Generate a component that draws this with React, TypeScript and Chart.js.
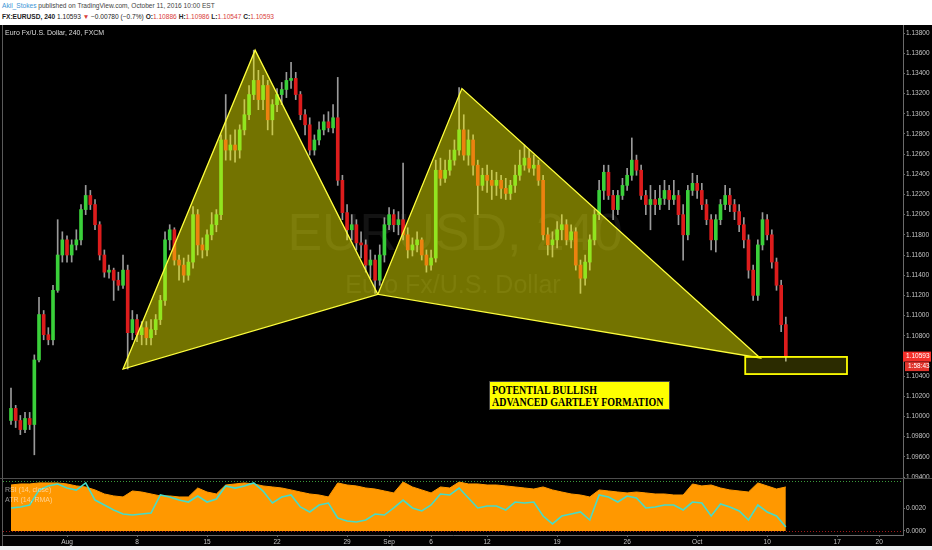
import { useEffect, useRef } from "react"
import { Chart, registerables } from "chart.js"

Chart.register(...registerables)

const SANS = "'Liberation Sans', Arial, sans-serif"

// 8-hour candles, index 0 = Jul 26 2016 (three per trading day)
const firstOpen = 1.0996
const closes = [
  1.1008, 1.0996, 1.0987, 1.0998, 1.0992, 1.1056, 1.1101, 1.1081, 1.1076, 1.1125,
  1.116, 1.1175, 1.116, 1.117, 1.1175, 1.1205, 1.1219, 1.121, 1.119, 1.116,
  1.1143, 1.1145, 1.1135, 1.113, 1.1145, 1.1083, 1.1096, 1.1081, 1.1088, 1.1078,
  1.1086, 1.1096, 1.1115, 1.1175, 1.1185, 1.1155, 1.115, 1.114, 1.1153, 1.12,
  1.117, 1.1165, 1.118, 1.119, 1.12, 1.1274, 1.1264, 1.1269, 1.1264, 1.1284,
  1.1299, 1.1319, 1.1333, 1.1314, 1.1328, 1.1294, 1.1309, 1.1319, 1.1324, 1.1333,
  1.1335, 1.1319, 1.1299, 1.1289, 1.1264, 1.1274, 1.1284, 1.1292, 1.1286, 1.1296,
  1.1234, 1.1202, 1.1185, 1.119, 1.1172, 1.117, 1.115, 1.1155, 1.1135, 1.116,
  1.119, 1.12, 1.119, 1.1195, 1.118, 1.1165, 1.117, 1.1175, 1.116, 1.115,
  1.1157, 1.1244, 1.1236, 1.1244, 1.1254, 1.1264, 1.1284, 1.1259, 1.1274, 1.1249,
  1.1229, 1.1239, 1.1234, 1.1229, 1.1234, 1.1226, 1.1221, 1.1229, 1.1239, 1.1249,
  1.1256, 1.1246, 1.1249, 1.1234, 1.118, 1.117, 1.1175, 1.1185, 1.119, 1.1175,
  1.1183, 1.115, 1.1137, 1.1153, 1.1175, 1.12, 1.1224, 1.1242, 1.1219, 1.1205,
  1.1219, 1.1229, 1.1239, 1.1254, 1.1244, 1.1219, 1.121, 1.1215, 1.121, 1.1216,
  1.1224, 1.1215, 1.1219, 1.12, 1.118, 1.1224, 1.1231, 1.1224, 1.121, 1.1195,
  1.1175, 1.1195, 1.121, 1.1219, 1.121, 1.1203, 1.119, 1.1175, 1.1145, 1.112,
  1.117, 1.1195, 1.118, 1.1153, 1.113, 1.1091, 1.10593,
]
const highs = [
  1.1028, 1.1011, 1.1001, 1.1004, 1.1004, 1.1061, 1.1118, 1.1105, 1.1088, 1.113,
  1.1195, 1.1183, 1.1179, 1.1175, 1.1185, 1.121, 1.1229, 1.1224, 1.1215, 1.1193,
  1.1165, 1.115, 1.1147, 1.1143, 1.116, 1.115, 1.1105, 1.1101, 1.1094, 1.1094,
  1.1096, 1.1101, 1.112, 1.1183, 1.119, 1.1187, 1.116, 1.1157, 1.116, 1.1208,
  1.1205, 1.1177, 1.1185, 1.1202, 1.1205, 1.1279, 1.1319, 1.1279, 1.1284, 1.1289,
  1.1314, 1.1328, 1.1363, 1.1343, 1.1338, 1.1333, 1.1314, 1.1325, 1.1331, 1.1341,
  1.1351, 1.1341, 1.1322, 1.1304, 1.1296, 1.1279, 1.1292, 1.1299, 1.1302, 1.1309,
  1.1336, 1.1239, 1.121, 1.12, 1.1195, 1.1183, 1.1175, 1.1165, 1.116, 1.117,
  1.1197, 1.1207, 1.1205, 1.1203, 1.1251, 1.1187, 1.1177, 1.1183, 1.1177, 1.1165,
  1.1165, 1.1254, 1.1256, 1.1254, 1.1264, 1.1274, 1.1326, 1.1299, 1.1284, 1.1279,
  1.1254, 1.1246, 1.1249, 1.1244, 1.1242, 1.1239, 1.1236, 1.1234, 1.1249, 1.1264,
  1.1269, 1.1264, 1.1259, 1.1254, 1.1239, 1.1187, 1.1183, 1.1193, 1.12, 1.1195,
  1.119, 1.1187, 1.1155, 1.116, 1.118, 1.1205, 1.1234, 1.1249, 1.1249, 1.1224,
  1.1224, 1.1236, 1.1246, 1.1276, 1.1259, 1.1249, 1.1224, 1.1229, 1.1224, 1.1229,
  1.1234, 1.1229, 1.1234, 1.1224, 1.121, 1.1229, 1.1241, 1.1239, 1.1231, 1.1215,
  1.12, 1.12, 1.1215, 1.1229, 1.1226, 1.1215, 1.121, 1.1197, 1.118, 1.115,
  1.1175, 1.1202, 1.12, 1.1185, 1.1157, 1.1135, 1.10986,
]
const lows = [
  1.0992, 1.0989, 1.0982, 1.0984, 1.0987, 1.0962, 1.1054, 1.1076, 1.1071, 1.1071,
  1.1123, 1.1153, 1.1153, 1.1153, 1.1165, 1.117, 1.12, 1.1205, 1.1185, 1.1155,
  1.1138, 1.1137, 1.1115, 1.1125, 1.1127, 1.1047, 1.1076, 1.1074, 1.1071, 1.1071,
  1.1071, 1.1081, 1.1091, 1.111, 1.1165, 1.115, 1.1135, 1.1133, 1.1135, 1.1147,
  1.116, 1.1157, 1.1159, 1.1175, 1.1183, 1.1195, 1.1254, 1.1254, 1.1252, 1.1256,
  1.1279, 1.1294, 1.1314, 1.1304, 1.1304, 1.1284, 1.1279, 1.1302, 1.1309, 1.1316,
  1.1325, 1.1314, 1.1294, 1.1279, 1.1259, 1.1259, 1.1269, 1.1279, 1.1282, 1.1281,
  1.1229, 1.1195, 1.1175, 1.1175, 1.1165, 1.1157, 1.1143, 1.1137, 1.1122, 1.113,
  1.1153, 1.1185, 1.1183, 1.118, 1.1175, 1.1157, 1.1159, 1.1163, 1.1155, 1.1143,
  1.1145, 1.1153, 1.1229, 1.1232, 1.1239, 1.1249, 1.1259, 1.1254, 1.1249, 1.1239,
  1.12, 1.1224, 1.1222, 1.1215, 1.1219, 1.1216, 1.1215, 1.1215, 1.1222, 1.1234,
  1.1244, 1.1242, 1.1239, 1.1229, 1.1175, 1.116, 1.1158, 1.1167, 1.1175, 1.117,
  1.1167, 1.1145, 1.1122, 1.113, 1.1145, 1.117, 1.1195, 1.1215, 1.1215, 1.1195,
  1.12, 1.1215, 1.1224, 1.1234, 1.1239, 1.1215, 1.12, 1.1185, 1.12, 1.1205,
  1.121, 1.1205, 1.121, 1.119, 1.1155, 1.1175, 1.1219, 1.1216, 1.1205, 1.119,
  1.1165, 1.1163, 1.119, 1.1205, 1.1203, 1.1195, 1.1183, 1.1167, 1.1137, 1.1115,
  1.1115, 1.1165, 1.1175, 1.1147, 1.1125, 1.1084, 1.10547,
]
const opens = closes.map((_, i) => (i === 0 ? firstOpen : closes[i - 1]))

const priceTicks = [
  1.094, 1.096, 1.098, 1.1, 1.102, 1.104, 1.106, 1.108, 1.11, 1.112, 1.114, 1.116,
  1.118, 1.12, 1.122, 1.124, 1.126, 1.128, 1.13, 1.132, 1.134, 1.136, 1.138,
]
const dateTickIdx = [12, 27, 42, 57, 72, 81, 90, 102, 117, 132, 147, 162, 177, 186]
const dateTickLabels = ["Aug", "8", "15", "22", "29", "Sep", "6", "12", "19", "26", "Oct", "10", "17", "20"]

// indicator samples, one every second candle
const indicatorStep = 2
const atr = [
  0.004, 0.00409, 0.00409, 0.00418, 0.00418, 0.00418, 0.00409, 0.00392, 0.00383, 0.00357,
  0.00322, 0.00305, 0.00296, 0.00348, 0.00339, 0.00322, 0.00305, 0.00305, 0.00296, 0.00296,
  0.00374, 0.00339, 0.00322, 0.004, 0.00409, 0.00418, 0.00409, 0.00392, 0.00383, 0.00374,
  0.00357, 0.00339, 0.00322, 0.00313, 0.00296, 0.00418, 0.004, 0.00392, 0.00374, 0.00365,
  0.00348, 0.00331, 0.00426, 0.00383, 0.00357, 0.00331, 0.00383, 0.00374, 0.00426, 0.00409,
  0.00409, 0.004, 0.004, 0.00392, 0.00383, 0.00374, 0.00365, 0.00383, 0.00357, 0.00339,
  0.00322, 0.00313, 0.00296, 0.00357, 0.00348, 0.00339, 0.00331, 0.00339, 0.00331, 0.00322,
  0.00322, 0.00313, 0.00313, 0.00409, 0.00392, 0.004, 0.00374, 0.00357, 0.00348, 0.00339,
  0.00418, 0.00392, 0.00365, 0.00383,
]
const rsi = [
  48.6, 49.4, 51.0, 63.1, 66.4, 68.0, 64.7, 63.1, 68.8, 55.0,
  51.0, 47.0, 43.7, 42.9, 43.7, 44.5, 59.1, 57.5, 55.0, 53.4,
  58.3, 53.4, 55.9, 66.4, 64.7, 66.4, 68.8, 62.3, 52.6, 57.5,
  59.1, 49.4, 45.4, 51.0, 52.6, 40.5, 38.1, 37.3, 38.9, 43.7,
  42.9, 48.6, 55.0, 48.6, 46.2, 51.0, 59.9, 59.1, 64.7, 56.7,
  48.6, 50.2, 50.2, 47.0, 53.4, 52.6, 53.4, 42.1, 35.7, 42.1,
  43.7, 45.4, 38.9, 59.1, 57.5, 53.4, 58.3, 56.7, 48.6, 49.4,
  51.0, 51.0, 47.0, 53.4, 52.6, 42.1, 51.8, 49.4, 46.2, 38.9,
  51.0, 45.4, 42.1, 33.2,
]
const atrTicks = [0, 0.002]
const rsiLevels = [70, 30]

// harmonic pattern points X, A, B, C, D (candle index, price)
const patternIdx = [24.0, 52.3, 78.6, 96.6, 160.5]
const patternPrice = [1.1047, 1.1363, 1.1121, 1.1325, 1.1058]
const zoneIdx = [157.3, 179.1]
const zonePrice = [1.1042, 1.1059]

const X_MIN = -1.714
const X_MAX = 191.1

const UP = "#3ad03a"
const DOWN = "#dd1c1c"
const WICK = "#9a9a9a"
const AXIS_TEXT = "#c4c4c4"
const AXIS_LINE = "#6a6a6a"

const overlayPlugin = {
  id: "overlay",
  beforeDatasetsDraw(chart: any) {
    const { ctx } = chart
    ctx.save()
    ctx.fillStyle = "rgba(255,255,255,0.075)"
    ctx.textAlign = "center"
    ctx.font = `52px ${SANS}`
    ctx.fillText("EURUSD, 240", 455, 225)
    ctx.font = `25px ${SANS}`
    ctx.fillText("Euro Fx/U.S. Dollar", 453, 268)
    ctx.restore()
  },
  afterDatasetsDraw(chart: any) {
    const { ctx, scales } = chart
    const px = (k: number) => scales.x.getPixelForValue(patternIdx[k])
    const py = (k: number) => scales.y.getPixelForValue(patternPrice[k])
    ctx.save()
    for (const tri of [[0, 1, 2], [2, 3, 4]]) {
      ctx.beginPath()
      tri.forEach((p, k) => (k ? ctx.lineTo(px(p), py(p)) : ctx.moveTo(px(p), py(p))))
      ctx.closePath()
      ctx.fillStyle = "rgba(255,255,0,0.45)"
      ctx.fill()
      ctx.strokeStyle = "#ffff3c"
      ctx.lineWidth = 1.3
      ctx.stroke()
    }
    const x0 = scales.x.getPixelForValue(zoneIdx[0])
    const x1 = scales.x.getPixelForValue(zoneIdx[1])
    const y0 = scales.y.getPixelForValue(zonePrice[1])
    const y1 = scales.y.getPixelForValue(zonePrice[0])
    ctx.fillStyle = "rgba(255,255,0,0.17)"
    ctx.fillRect(x0, y0, x1 - x0, y1 - y0)
    ctx.strokeStyle = "#ffff00"
    ctx.lineWidth = 1.8
    ctx.strokeRect(x0, y0, x1 - x0, y1 - y0)
    ctx.restore()
  },
  afterDraw(chart: any) {
    const { ctx, chartArea, scales } = chart
    const last = closes[closes.length - 1]
    const y = scales.y.getPixelForValue(last)
    ctx.save()
    ctx.fillStyle = "#f5302a"
    ctx.fillRect(chartArea.right, y - 5, 28, 10)
    ctx.fillStyle = "#e2342c"
    ctx.fillRect(chartArea.right + 2, y + 5.5, 24, 9)
    ctx.fillStyle = "#ffffff"
    ctx.font = `6.5px ${SANS}`
    ctx.textBaseline = "middle"
    ctx.fillText(last.toFixed(5), chartArea.right + 3, y)
    ctx.fillText("1:58:43", chartArea.right + 5, y + 10)
    ctx.restore()
  },
}

const levelPlugin = {
  id: "levels",
  afterDatasetsDraw(chart: any) {
    const { ctx, chartArea, scales } = chart
    ctx.save()
    ctx.setLineDash([1, 2])
    ctx.lineWidth = 1
    rsiLevels.forEach((lv, k) => {
      const y = Math.round(scales.yOsc.getPixelForValue(lv)) + 0.5
      ctx.strokeStyle = k === 0 ? "#3a9a3a" : "#a31b1b"
      ctx.beginPath()
      ctx.moveTo(chartArea.left, y)
      ctx.lineTo(chartArea.right, y)
      ctx.stroke()
    })
    ctx.restore()
  },
}

function PriceChart() {
  const chartRef = useRef<HTMLCanvasElement>(null)
  const chartInstance = useRef<Chart | null>(null)

  useEffect(() => {
    if (!chartRef.current) return
    if (chartInstance.current) chartInstance.current.destroy()
    const ctx = chartRef.current.getContext("2d")
    if (!ctx) return

    chartInstance.current = new Chart(ctx, {
      type: "bar",
      data: {
        datasets: [
          {
            label: "wick",
            data: lows.map((l, i) => ({ x: i, y: [l, highs[i]] })) as any,
            backgroundColor: WICK,
            barThickness: 1,
            grouped: false,
            minBarLength: 1,
            order: 2,
          },
          {
            label: "body",
            data: closes.map((c, i) => ({ x: i, y: [Math.min(opens[i], c), Math.max(opens[i], c)] })) as any,
            backgroundColor: (c: any) => (closes[c.dataIndex] >= opens[c.dataIndex] ? UP : DOWN),
            barThickness: 3,
            grouped: false,
            minBarLength: 1,
            order: 1,
          },
        ],
      },
      options: {
        animation: false,
        responsive: true,
        maintainAspectRatio: false,
        layout: { padding: { left: 3, top: 0, right: 0, bottom: 0 } },
        plugins: { legend: { display: false }, tooltip: { enabled: false } },
        scales: {
          x: { type: "linear", min: X_MIN, max: X_MAX, display: false, offset: false },
          y: {
            position: "right",
            min: 1.093901,
            max: 1.138793,
            afterBuildTicks: (s: any) => {
              s.ticks = priceTicks.map((v) => ({ value: v }))
            },
            afterFit: (s: any) => {
              s.width = 29
              s.paddingTop = 0
              s.paddingBottom = 0
            },
            ticks: {
              color: AXIS_TEXT,
              font: { size: 6.5, family: SANS },
              padding: 1,
              callback: (v: any) => Number(v).toFixed(5),
            },
            grid: { drawOnChartArea: false, tickLength: 2, color: AXIS_LINE },
            border: { color: AXIS_LINE },
          },
        },
      } as any,
      plugins: [overlayPlugin],
    })

    return () => {
      if (chartInstance.current) {
        chartInstance.current.destroy()
        chartInstance.current = null
      }
    }
  }, [])

  return <canvas ref={chartRef}></canvas>
}

function IndicatorChart() {
  const chartRef = useRef<HTMLCanvasElement>(null)
  const chartInstance = useRef<Chart | null>(null)

  useEffect(() => {
    if (!chartRef.current) return
    if (chartInstance.current) chartInstance.current.destroy()
    const ctx = chartRef.current.getContext("2d")
    if (!ctx) return

    chartInstance.current = new Chart(ctx, {
      type: "line",
      data: {
        datasets: [
          {
            label: "RSI (14, close)",
            data: rsi.map((v, j) => ({ x: j * indicatorStep, y: v })),
            yAxisID: "yOsc",
            borderColor: "#46dcc8",
            borderWidth: 1.6,
            pointRadius: 0,
            fill: false,
            tension: 0,
            order: 0,
          },
          {
            label: "ATR (14, RMA)",
            data: atr.map((v, j) => ({ x: j * indicatorStep, y: v })),
            yAxisID: "y",
            borderColor: "#ff9800",
            backgroundColor: "#ff9800",
            borderWidth: 1,
            pointRadius: 0,
            fill: "origin",
            tension: 0,
            order: 1,
          },
        ],
      },
      options: {
        animation: false,
        responsive: true,
        maintainAspectRatio: false,
        layout: { padding: { left: 3, top: 0, right: 0, bottom: 0 } },
        plugins: { legend: { display: false }, tooltip: { enabled: false } },
        scales: {
          x: {
            type: "linear",
            min: X_MIN,
            max: X_MAX,
            offset: false,
            afterBuildTicks: (s: any) => {
              s.ticks = dateTickIdx.map((v) => ({ value: v }))
            },
            afterFit: (s: any) => {
              s.height = 11
              s.paddingLeft = 0
              s.paddingRight = 0
            },
            ticks: {
              autoSkip: false,
              maxRotation: 0,
              color: AXIS_TEXT,
              font: { size: 6.5, family: SANS },
              padding: 1,
              callback: (_v: any, i: number) => dateTickLabels[i],
            },
            grid: { drawOnChartArea: false, tickLength: 2, color: AXIS_LINE },
            border: { color: AXIS_LINE },
          },
          y: {
            position: "right",
            min: -0.000348,
            max: 0.004522,
            afterBuildTicks: (s: any) => {
              s.ticks = atrTicks.map((v) => ({ value: v }))
            },
            afterFit: (s: any) => {
              s.width = 29
              s.paddingTop = 0
              s.paddingBottom = 0
            },
            ticks: {
              color: AXIS_TEXT,
              font: { size: 6.5, family: SANS },
              padding: 1,
              callback: (v: any) => Number(v).toFixed(4),
            },
            grid: { drawOnChartArea: false, tickLength: 2, color: AXIS_LINE },
            border: { color: AXIS_LINE },
          },
          yOsc: { type: "linear", axis: "y", display: false, min: 26.77, max: 72.02 },
        },
      } as any,
      plugins: [levelPlugin],
    })

    return () => {
      if (chartInstance.current) {
        chartInstance.current.destroy()
        chartInstance.current = null
      }
    }
  }, [])

  return <canvas ref={chartRef}></canvas>
}

const red = { color: "#d9403a" }

export default function App() {
  return (
    <div
      style={{
        position: "fixed",
        left: 0,
        top: 0,
        width: 932,
        height: 550,
        background: "#eceff1",
        overflow: "hidden",
        fontFamily: SANS,
      }}
    >
      {/* publish header */}
      <div style={{ position: "absolute", left: 0, top: 0, width: 932, height: 25, background: "#ffffff" }} />
      <div style={{ position: "absolute", left: 2, top: 1, fontSize: 6.6, lineHeight: "10px", color: "#444", whiteSpace: "nowrap" }}>
        <span style={{ color: "#3d95d5" }}>Akil_Stokes</span> published on TradingView.com, October 11, 2016 10:00 EST
      </div>
      <div style={{ position: "absolute", left: 2, top: 12, fontSize: 6.6, lineHeight: "10px", color: "#222", whiteSpace: "nowrap" }}>
        <b>FX:EURUSD, 240</b> 1.10593 <span style={red}>▼</span> −0.00780 (−0.7%) <b>O:</b>
        <span style={red}>1.10886</span> <b>H:</b>
        <span style={red}>1.10986</span> <b>L:</b>
        <span style={red}>1.10547</span> <b>C:</b>
        <span style={red}>1.10593</span>
      </div>

      {/* dark chart panel */}
      <div style={{ position: "absolute", left: 0, top: 25, width: 932, height: 521, background: "#000000" }} />
      <div style={{ position: "absolute", left: 2, top: 25, width: 1, height: 521, background: "#5a5a5a" }} />

      <div style={{ position: "absolute", left: 0, top: 25, width: 932, height: 453 }}>
        <PriceChart />
      </div>
      <div style={{ position: "absolute", left: 0, top: 478, width: 932, height: 1, background: "#4d4d4d" }} />
      <div style={{ position: "absolute", left: 0, top: 479, width: 932, height: 67 }}>
        <IndicatorChart />
      </div>

      <div style={{ position: "absolute", left: 5, top: 28, fontSize: 7, lineHeight: "9px", color: "#dddddd", whiteSpace: "nowrap" }}>
        Euro Fx/U.S. Dollar, 240, FXCM
      </div>

      <div style={{ position: "absolute", left: 5, top: 485, fontSize: 7, lineHeight: "10px", color: "rgba(255,255,255,0.55)", whiteSpace: "nowrap" }}>
        RSI (14, close)
        <br />
        ATR (14, RMA)
      </div>

      <div
        style={{
          position: "absolute",
          left: 489,
          top: 381,
          width: 181,
          height: 29,
          boxSizing: "border-box",
          background: "#ffff00",
          border: "1px solid #444",
        }}
      >
        <div
          style={{
            position: "absolute",
            left: 2,
            top: 2,
            transform: "scaleX(0.83)",
            transformOrigin: "left top",
            whiteSpace: "nowrap",
            fontFamily: "'Liberation Serif', 'Times New Roman', serif",
            fontWeight: "bold",
            fontSize: 12,
            lineHeight: "12.3px",
            color: "#000",
          }}
        >
          POTENTIAL BULLISH
          <br />
          ADVANCED GARTLEY FORMATION
        </div>
      </div>
    </div>
  )
}
